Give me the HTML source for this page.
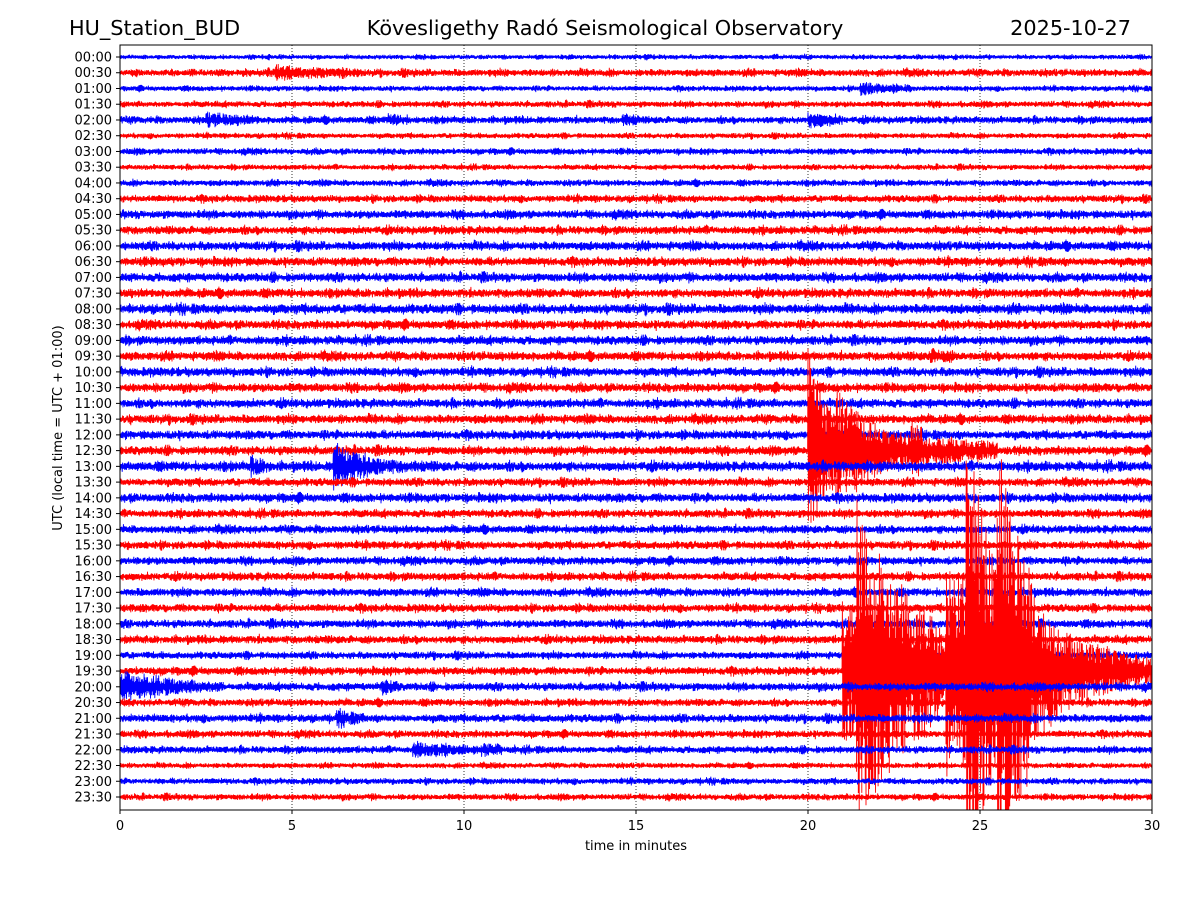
<!DOCTYPE html>
<html><head><meta charset="utf-8">
<style>
html,body{margin:0;padding:0;background:#fff;width:1200px;height:900px;overflow:hidden;}
svg{display:block;font-family:"DejaVu Sans","Liberation Sans",sans-serif;overflow:hidden;}
</style></head>
<body>
<svg id="chart" width="1200" height="900" viewBox="0 0 1200 900">
  <text x="69" y="35" font-size="20.8">HU_Station_BUD</text>
  <text x="605" y="35" font-size="20.8" text-anchor="middle">Kövesligethy Radó Seismological Observatory</text>
  <text x="1131" y="35" font-size="20.8" text-anchor="end">2025-10-27</text>
  <defs><clipPath id="clip"><rect x="120" y="45" width="1032" height="765"/></clipPath></defs>
  <g id="grid"></g>
  <g id="traces" clip-path="url(#clip)"></g>
  <rect x="120" y="45" width="1032" height="765" fill="none" stroke="#000" stroke-width="1"/>
  <g id="yticks"></g>
  <g id="xticks"></g>
  <text x="636" y="850" font-size="13" text-anchor="middle">time in minutes</text>
  <text transform="translate(62,428) rotate(-90)" font-size="13" text-anchor="middle">UTC (local time = UTC + 01:00)</text>
</svg>
<script>
const rowLabels = [];
for (let h = 0; h < 24; h++) { const hh = String(h).padStart(2,'0'); rowLabels.push(hh+':00', hh+':30'); }
const xTicks = [0,5,10,15,20,25,30];
// background noise amplitude per row (px)
const rowNoise = [2.2,3.5,2.6,3,3.5,2.6,3,2.6,3,3.5,4,4,4.3,4.3,4.3,4.3,4.7,4.3,4.3,4.3,4.3,4.3,4.3,4.3,4.3,4.3,4.7,3.9,4.3,3.9,3.9,3.9,3.9,3.9,3.9,3.9,3.9,3.9,3.5,3.9,3.9,3.5,3.9,3.5,3.5,2.6,3,3];
// events: row index, start minute, peak amplitude (px), decay (min), duration (min)
const eventRow   = [1,  2,   4,   4,   4,    4,   25,  25,  25,  26,  26,  39,   39,   39,   39,   39,   40,  40,  42,  44,  44,  19];
const eventStart = [4.5,21.5,2.5, 7.8, 14.6, 20,  20,  20.8,23,  6.2, 3.8, 21,   21.4, 24.0, 24.6, 25.5, 0,   7.6, 6.3, 8.5, 10.5,23.5];
const eventAmp   = [4,  5,   5,   4,   4,    6,   100, 30,  12,  22,  7,   70,   110,  80,   220,  130,  12,  6,   6,   6,   5,   4];
const eventDecay = [2,  1,   1,   0.5, 0.5,  0.8, 0.7, 2.5, 3,   0.8, 0.4, 4,    1.2,  2.5,  0.5,  1.2,  1.5, 0.4, 0.5, 1,   0.5, 0.8];
const eventDur   = [2.5,1.5, 1.5, 0.6, 0.5,  1,   2,   2.5, 2.5, 3,   0.6, 9,    2.5,  2.5,  1.2,  4.5,  3,   0.5, 0.8, 2,   0.6, 0.8];

const NS='http://www.w3.org/2000/svg';
const X0=120, X1=1152, Y0=57, DY=(797-57)/47;
const xs = m => X0 + (X1-X0)*m/30;
const ys = r => Y0 + r*DY;

let seed = 12345;
function rnd(){ seed = (seed*1103515245 + 12345) & 0x7fffffff; return seed/0x7fffffff; }

const grid = document.getElementById('grid');
const xt = document.getElementById('xticks');
xTicks.forEach(t => {
  if (t>0 && t<30) {
    const l=document.createElementNS(NS,'line');
    
    
    l.setAttribute('x1',xs(t)); l.setAttribute('x2',xs(t)); l.setAttribute('y1',45); l.setAttribute('y2',810);
    l.setAttribute('stroke','#000'); l.setAttribute('stroke-width','0.8'); l.setAttribute('stroke-dasharray','1,2');
    grid.appendChild(l);
  }
  const tk=document.createElementNS(NS,'line');
  
  
  tk.setAttribute('x1',xs(t)); tk.setAttribute('x2',xs(t)); tk.setAttribute('y1',810); tk.setAttribute('y2',814); tk.setAttribute('stroke','#000');
  xt.appendChild(tk);
  const tx=document.createElementNS(NS,'text');
  
  
  tx.setAttribute('x',xs(t)); tx.setAttribute('y',830); tx.setAttribute('font-size','13'); tx.setAttribute('text-anchor','middle');
  tx.textContent=t; xt.appendChild(tx);
});
const yt=document.getElementById('yticks');
rowLabels.forEach((lab,r)=>{
  const tk=document.createElementNS(NS,'line');
  
  
  tk.setAttribute('x1',116); tk.setAttribute('x2',120); tk.setAttribute('y1',ys(r)); tk.setAttribute('y2',ys(r)); tk.setAttribute('stroke','#000');
  yt.appendChild(tk);
  const tx=document.createElementNS(NS,'text');
  
  
  tx.setAttribute('x',112); tx.setAttribute('y',ys(r)+4.5); tx.setAttribute('font-size','13'); tx.setAttribute('text-anchor','end');
  tx.textContent=lab; yt.appendChild(tx);
});

const traces=document.getElementById('traces');
const N = 2400;
rowLabels.forEach((lab,r)=>{
  let d='';
  let slow=0;
  for (let i=0;i<=N;i++){
    const m = 30*i/N;
    slow = 0.9*slow + 0.1*(rnd()*2-1);
    let amp = rowNoise[r]*(0.75+0.8*Math.abs(slow)*3);
    for (let e=0;e<eventRow.length;e++){
      if (eventRow[e]!==r) continue;
      const dt = m - eventStart[e];
      if (dt>=0 && dt<=eventDur[e]) amp += eventAmp[e]*Math.exp(-dt/eventDecay[e]);
    }
    const v = (i%2?1:-1)*amp*(0.3+0.7*rnd());
    const y = Math.max(45, Math.min(810, ys(r)+v));
    d += (i?'L':'M') + xs(m).toFixed(1) + ' ' + y.toFixed(1);
  }
  const p=document.createElementNS(NS,'path');
  
  
  p.setAttribute('d',d); p.setAttribute('fill','none');
  p.setAttribute('stroke', r%2 ? '#ff0000' : '#0000ff'); p.setAttribute('stroke-width','0.9');
  traces.appendChild(p);
});
</script>
</body></html>
